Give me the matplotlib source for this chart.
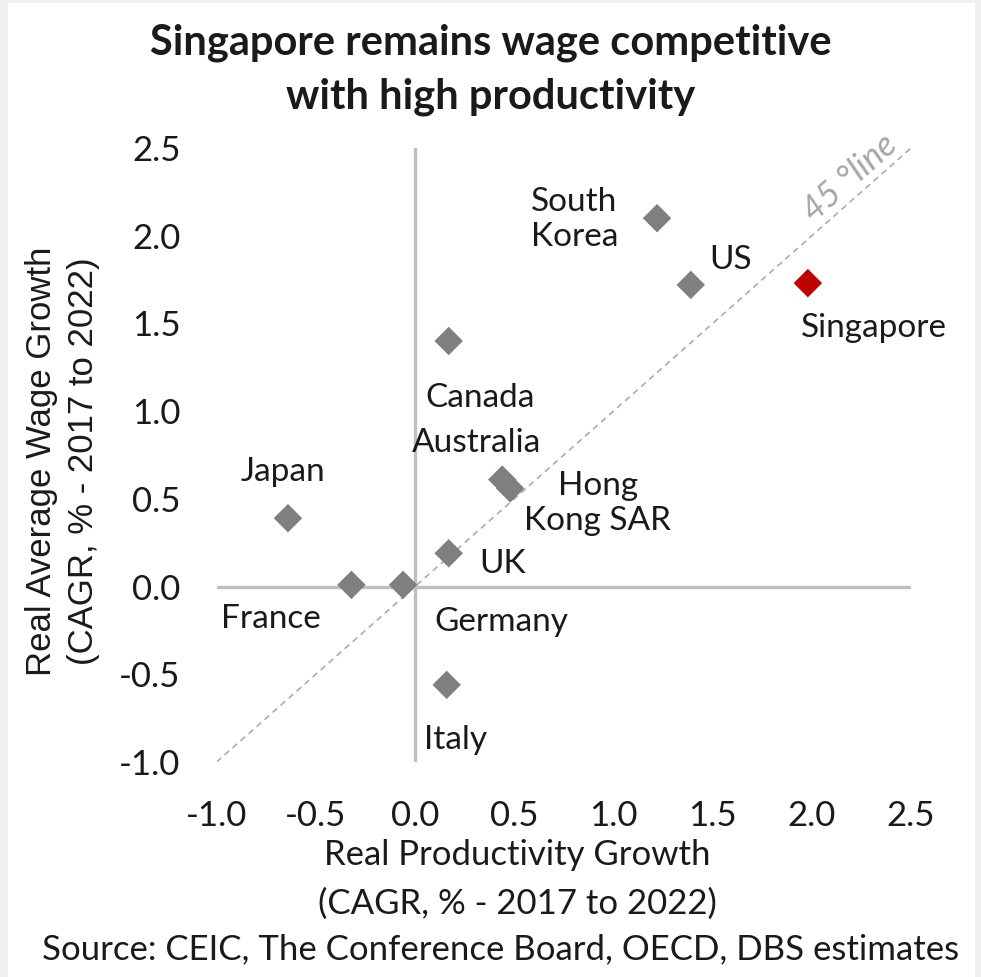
import matplotlib
matplotlib.use("Agg")
import matplotlib.pyplot as plt
from matplotlib.patches import Rectangle

plt.rcParams['font.family'] = ['Lato', 'DejaVu Sans']

# productivity vs wage growth, CAGR % 2017-2022
countries = ['South\nKorea', 'US', 'Singapore', 'Canada', 'Australia', 'Hong\nKong SAR',
             'Japan', 'UK', 'France', 'Germany', 'Italy']
productivity = [1.22, 1.39, 1.98, 0.17, 0.44, 0.48, -0.64, 0.17, -0.32, -0.06, 0.16]
wages = [2.10, 1.72, 1.73, 1.40, 0.61, 0.56, 0.39, 0.19, 0.01, 0.01, -0.56]
x_ticks = [-1.0, -0.5, 0.0, 0.5, 1.0, 1.5, 2.0, 2.5]
y_ticks = [-1.0, -0.5, 0.0, 0.5, 1.0, 1.5, 2.0, 2.5]

# label placement (offset in points, horizontal alignment)
label_pos = {
    'South\nKorea': ((-28, -1), 'right'),
    'US': ((13, 18), 'left'),
    'Singapore': ((-5, -32), 'left'),
    'Canada': ((-17, -41), 'left'),
    'Australia': ((28, 26), 'right'),
    'Hong\nKong SAR': ((63, -11), 'center'),
    'Japan': ((-3.5, 33), 'center'),
    'UK': ((22, -7.5), 'left'),
    'France': ((-58, -24.5), 'center'),
    'Germany': ((71, -27), 'center'),
    'Italy': ((6.5, -40), 'center'),
}

grey = '#7f7f7f'
red = '#c00000'
txt = '#1a1a1a'

fig = plt.figure(figsize=(9.81, 9.77), dpi=100, facecolor='#f0f0f0')
# white card inside a thin grey frame
fig.patches.append(Rectangle((8 / 981, 0), 967 / 981, 974 / 977, transform=fig.transFigure,
                             facecolor='white', edgecolor='none', zorder=-10))

ax = fig.add_axes([0.2207, 0.22, 0.708, 0.6285])
ax.patch.set_alpha(0)
ax.set_xlim(-1.0, 2.5)
ax.set_ylim(-1.0, 2.5)

for s in ax.spines.values():
    s.set_visible(False)
ax.axhline(0, color='#bfbfbf', lw=2.4, zorder=1)
ax.axvline(0, color='#bfbfbf', lw=2.4, zorder=1)

# 45 degree reference line
ax.plot([-1.0, 2.5], [-1.0, 2.5], ls=(0, (4, 3)), color='#a6a6a6', lw=1.1, zorder=1)
ax.text(2.19, 2.33, '45 °line', color='#a6a6a6', fontsize=25, style='italic',
        rotation=45, transform_rotates_text=True, rotation_mode='anchor',
        ha='center', va='center')

colors = [red if c == 'Singapore' else grey for c in countries]
ax.scatter(productivity, wages, marker='D', s=210, c=colors, linewidths=0, zorder=3)

for c, x, y in zip(countries, productivity, wages):
    off, ha = label_pos[c]
    ax.annotate(c, (x, y), xytext=off, textcoords='offset points', ha=ha, va='center',
                multialignment='left' if ha != 'center' else 'center',
                fontsize=24, color=txt, linespacing=1.2)

ax.set_xticks(x_ticks)
ax.set_yticks(y_ticks)
ax.set_xticklabels([f'{v:.1f}' for v in x_ticks])
ax.set_yticklabels([f'{v:.1f}' for v in y_ticks])
ax.tick_params(length=0, labelsize=25, labelcolor=txt)
ax.tick_params(axis='x', pad=27)
ax.tick_params(axis='y', pad=26)

fig.text(0.5, 0.929, 'Singapore remains wage competitive\nwith high productivity',
         ha='center', va='center', fontsize=30, fontweight='bold', color=txt,
         linespacing=1.5)
fig.text(0.064, 0.528, 'Real Average Wage Growth\n(CAGR, % - 2017 to 2022)',
         rotation=90, ha='center', va='center', fontsize=25, color=txt, linespacing=1.35,
         family='Liberation Sans')
fig.text(0.527, 0.1, 'Real Productivity Growth\n(CAGR, % - 2017 to 2022)',
         ha='center', va='center', fontsize=25, color=txt, linespacing=1.65)
fig.text(0.51, 0.028, 'Source: CEIC, The Conference Board, OECD, DBS estimates',
         ha='center', va='center', fontsize=25, color=txt)

fig.savefig('out.png', dpi=100, facecolor=fig.get_facecolor())
